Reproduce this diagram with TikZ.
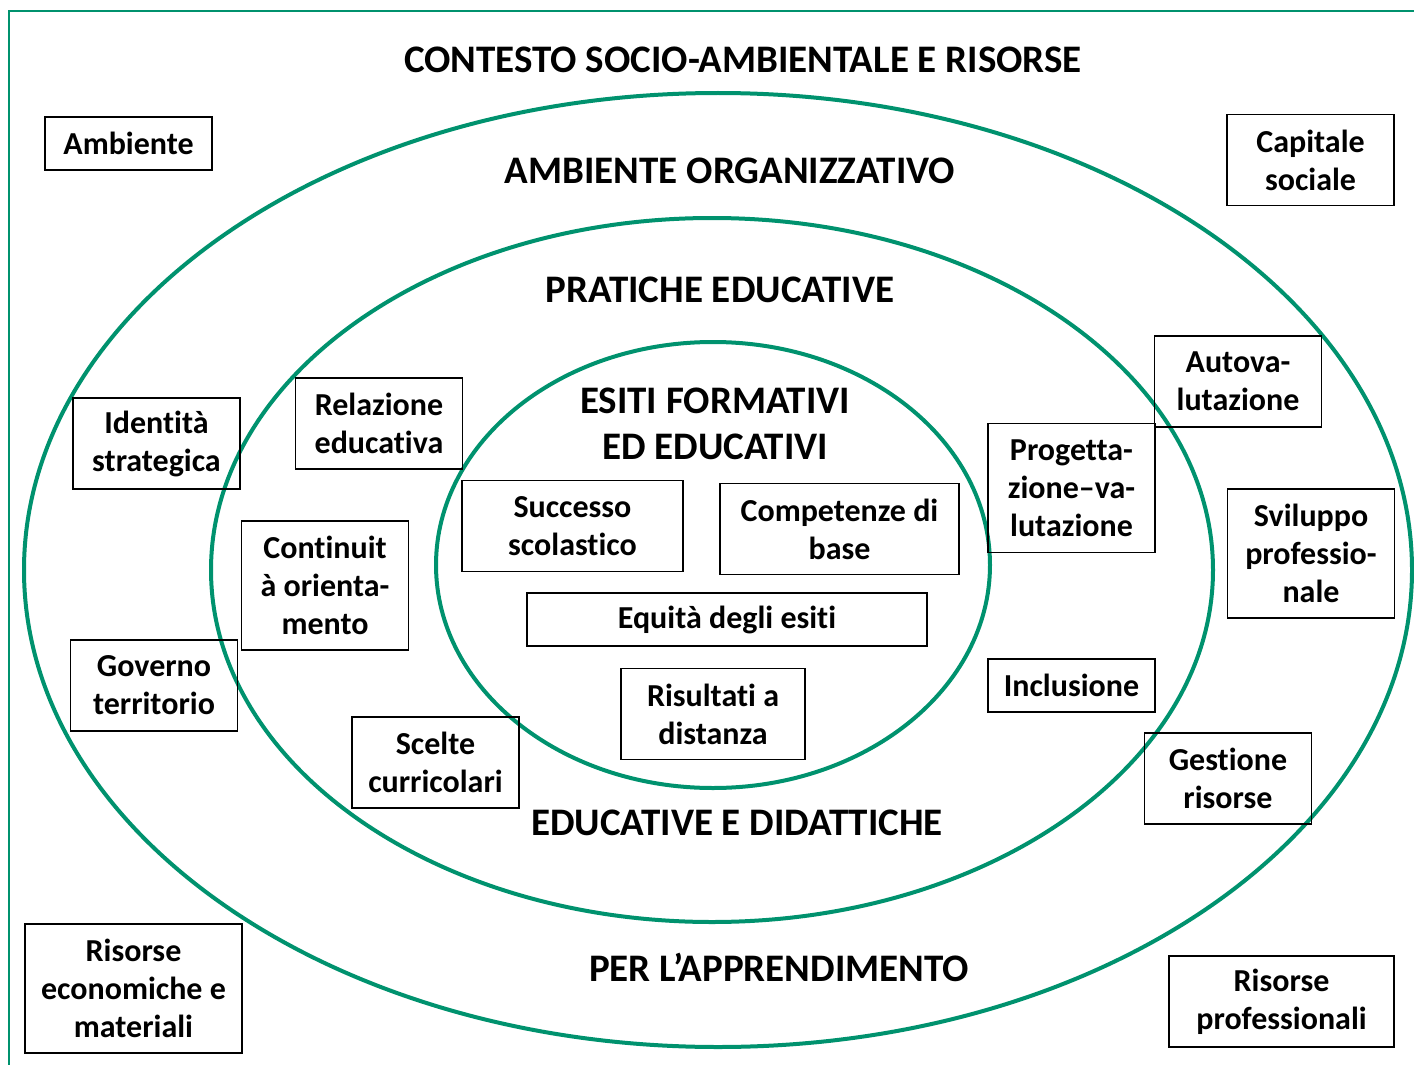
\documentclass[tikz,border=0pt]{standalone}
\usepackage{fontspec}
\setmainfont{Carlito}[Ligatures={NoCommon}]
\definecolor{ringgreen}{RGB}{0,146,110}
\tikzset{
ring/.style={ % Sets the look of the three ellipses
draw=ringgreen,
line width=2pt},
frame/.style={draw=ringgreen, line width=1.4pt},
box/.style={ % Sets the properties for each labelled box
draw,
line width=0.9pt,
align=center,
inner sep=0pt,
minimum width=83.5pt,
minimum height=45.5pt,
font=\fontsize{16}{19}\selectfont\bfseries},
low/.style={minimum height=26.5pt},
tall/.style={minimum height=64.5pt},
title/.style={align=center, font=\fontsize{19.5}{23}\selectfont\bfseries}}

\begin{document}
\begin{tikzpicture}[x=0.5pt, y=-0.5pt]
\useasboundingbox (0,0) rectangle (1414,1065);
\draw[frame] (9,1070) |- (1420,11);
% ellipses
\draw[ring] (718,570) ellipse [x radius=347pt, y radius=238.5pt];
\draw[ring] (712,570) ellipse [x radius=250.5pt, y radius=176pt];
\draw[ring] (713,565) ellipse [x radius=138.5pt, y radius=111.5pt];
% titles
\node[title] (contesto) at (743,60) {CONTESTO SOCIO-AMBIENTALE E RISORSE};
\node[title] (amborg) at (730,171) {AMBIENTE ORGANIZZATIVO};
\node[title] (pratiche) at (720,290) {PRATICHE EDUCATIVE};
\node[title] (esiti) at (715,424) {ESITI FORMATIVI\\ED EDUCATIVI};
\node[title] (didattiche) at (737,823) {EDUCATIVE E DIDATTICHE};
\node[title] (apprend) at (779,967) {PER L’APPRENDIMENTO};
% outer ring
\node[box, low] (ambiente) at (128.5,143.5) {Ambiente};
\node[box] (capitale) at (1310.5,160) {Capitale\\sociale};
\node[box, minimum width=108.5pt, tall] (economiche) at (133.5,988.5) {Risorse\\economiche e\\materiali};
\node[box, minimum width=112.5pt] (professionali) at (1281.5,1001.5) {Risorse\\professionali};
% middle ring
\node[box] (identita) at (156.5,443.5) {Identità\\strategica};
\node[box] (governo) at (154,685.5) {Governo\\territorio};
\node[box] (autoval) at (1238,381.5) {Autova-\\lutazione};
\node[box, tall] (sviluppo) at (1311,553.5) {Sviluppo\\professio-\\nale};
\node[box] (gestione) at (1228,778.5) {Gestione\\risorse};
% inner ring
\node[box] (relazione) at (379,423.5) {Relazione\\educativa};
\node[box, tall] (continuita) at (325,585.5) {Continuit\\à orienta-\\mento};
\node[box] (scelte) at (435.5,762.5) {Scelte\\curricolari};
\node[box, tall] (progetta) at (1071.5,488) {Progetta-\\zione–va-\\lutazione};
\node[box, low] (inclusione) at (1071.5,685.5) {Inclusione};
% esiti
\node[box, minimum width=110.5pt] (successo) at (572.5,526) {Successo\\scolastico};
\node[box, minimum width=119.5pt] (competenze) at (839.5,529) {Competenze di\\base};
\node[box, low, minimum width=200pt] (equita) at (727,619.5) {Equità degli esiti};
\node[box, minimum width=92pt] (risultati) at (713,714) {Risultati a\\distanza};
\end{tikzpicture}
\end{document}
